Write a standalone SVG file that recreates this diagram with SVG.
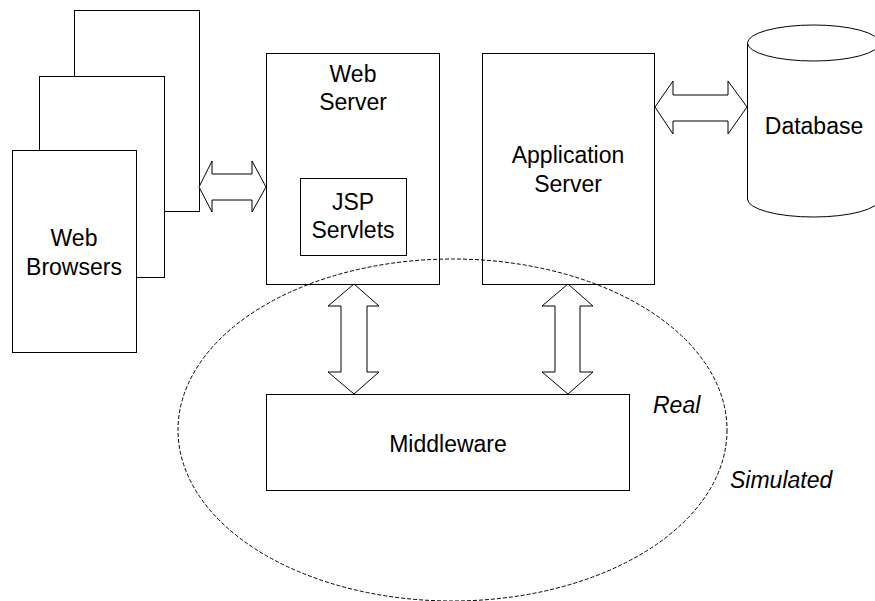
<svg xmlns="http://www.w3.org/2000/svg" width="875" height="601" viewBox="0 0 875 601">
  <style>
    .box { fill: #fff; stroke: #000; stroke-width: 1; }
    .arrow { fill: #fff; stroke: #000; stroke-width: 1; stroke-linejoin: miter; }
    .lbl { font-family: "Liberation Sans", Arial, sans-serif; font-size: 23px; fill: #000; text-anchor: middle; }
    .it { font-style: italic; text-anchor: start; }
    .boundary { fill: none; stroke: #000; stroke-width: 1; stroke-dasharray: 4 2; }
  </style>

  <!-- stacked browser windows -->
  <g id="browsers">
    <rect class="box" x="74.5" y="10.5" width="125" height="201"/>
    <rect class="box" x="39.5" y="76.5" width="125" height="201"/>
    <rect class="box" x="12.5" y="150.5" width="124" height="202"/>
    <text class="lbl" x="74" y="246">Web</text>
    <text class="lbl" x="74" y="275">Browsers</text>
  </g>

  <g id="web-server">
    <rect class="box" x="266.5" y="53.5" width="173" height="231"/>
    <text class="lbl" x="353" y="82">Web</text>
    <text class="lbl" x="353" y="110">Server</text>
  </g>

  <g id="jsp-servlets">
    <rect class="box" x="300.5" y="178.5" width="106" height="77"/>
    <text class="lbl" x="353" y="210">JSP</text>
    <text class="lbl" x="353" y="238">Servlets</text>
  </g>

  <g id="app-server">
    <rect class="box" x="482.5" y="53.5" width="172" height="231"/>
    <text class="lbl" x="568" y="163">Application</text>
    <text class="lbl" x="568" y="192">Server</text>
  </g>

  <g id="database">
    <path class="box" d="M747.5,43 L747.5,199 A66,18 0 0 0 879.5,199 L879.5,43"/>
    <ellipse class="box" cx="813.5" cy="43" rx="66" ry="18"/>
    <text class="lbl" x="814" y="134">Database</text>
  </g>

  <g id="middleware">
    <rect class="box" x="266.5" y="394.5" width="363" height="96"/>
    <text class="lbl" x="448" y="452">Middleware</text>
  </g>

  <!-- real / simulated boundary -->
  <g id="boundary">
    <ellipse class="boundary" cx="452.5" cy="430" rx="274.5" ry="171"/>
    <text class="lbl it" x="653" y="413">Real</text>
    <text class="lbl it" x="730" y="488">Simulated</text>
  </g>

  <g id="connectors">
    <polygon class="arrow" points="199,187 212,161 212,174 252,174 252,161 266,187 252,212 252,200 212,200 212,212"/>
    <polygon class="arrow" points="655,107 673,81 673,95 728,95 728,81 747,107 728,134 728,121 673,121 673,134"/>
    <polygon class="arrow" points="354,284 379,306 367,306 367,372 379,372 354,394 328,372 341,372 341,306 328,306"/>
    <polygon class="arrow" points="568,284 593,306 580,306 580,372 593,372 568,394 542,372 555,372 555,306 542,306"/>
  </g>
</svg>
